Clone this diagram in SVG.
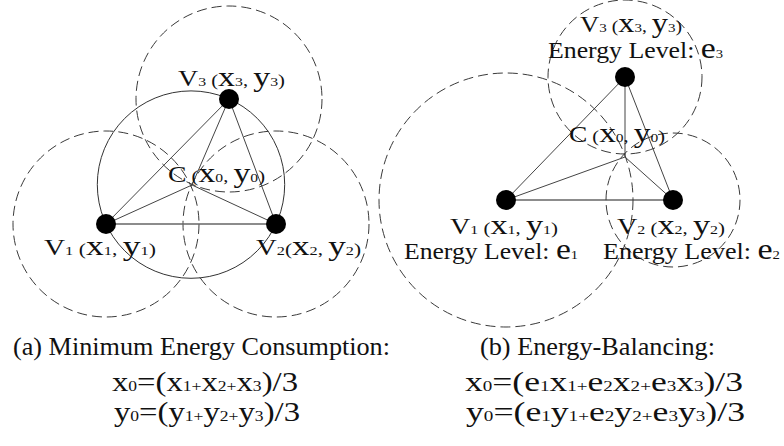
<svg xmlns="http://www.w3.org/2000/svg" width="784" height="446" viewBox="0 0 784 446">
<style>
.t{font-family:"Liberation Serif","Times New Roman",serif;fill:#111}
.v{font-size:23px}.s{font-size:13px}.p{font-size:17px}.b{font-size:28px}
.el{font-size:23px}.eb{font-size:30px}
.cap{font-size:26px}.fb{font-size:28px}.fs{font-size:15px}
.dash{fill:none;stroke:#3a3a3a;stroke-width:1;stroke-dasharray:10 5}
.ring{fill:none;stroke:#333;stroke-width:1}
.edge{stroke:#444;stroke-width:1;fill:none}
.base{stroke:#666;stroke-width:1.4}
.dot{fill:#000}
</style>
<rect width="784" height="446" fill="#fff"/>

<!-- (a) panel -->
<g id="a-range">
<circle class="dash" cx="106" cy="224" r="93"/>
<circle class="dash" cx="276" cy="224" r="93"/>
<circle class="dash" cx="229" cy="99" r="93"/>
<circle class="ring" cx="191" cy="184.6" r="93.7"/>
</g>
<g id="connectors">
<line class="base" x1="106" y1="224" x2="276" y2="224"/>
<line class="edge" x1="106" y1="224" x2="229" y2="99"/>
<line class="edge" x1="276" y1="224" x2="229" y2="99"/>
<line class="edge" x1="192" y1="185" x2="106" y2="224"/>
<line class="edge" x1="192" y1="185" x2="276" y2="224"/>
<line class="edge" x1="192" y1="185" x2="229" y2="99"/>
<line class="base" x1="506" y1="200" x2="673" y2="200"/>
<line class="edge" x1="506" y1="200" x2="625" y2="77"/>
<line class="edge" x1="673" y1="200" x2="625" y2="77"/>
<line class="edge" x1="625" y1="157" x2="506" y2="200"/>
<line class="edge" x1="625" y1="157" x2="673" y2="200"/>
<line class="edge" x1="625" y1="157" x2="625" y2="77"/>
</g>
<g id="a-v1">
<circle class="dot" cx="106" cy="224" r="10"/>
<text class="t" x="44" y="255" textLength="112" lengthAdjust="spacingAndGlyphs"><tspan class="v">V</tspan><tspan class="s">1</tspan><tspan class="p"> (</tspan><tspan class="b">x</tspan><tspan class="s">1</tspan><tspan class="p">, </tspan><tspan class="b">y</tspan><tspan class="s">1</tspan><tspan class="p">)</tspan></text>
</g>
<g id="a-v2">
<circle class="dot" cx="276" cy="224" r="10"/>
<text class="t" x="256" y="255" textLength="105" lengthAdjust="spacingAndGlyphs"><tspan class="v">V</tspan><tspan class="s">2</tspan><tspan class="p">(</tspan><tspan class="b">x</tspan><tspan class="s">2</tspan><tspan class="p">, </tspan><tspan class="b">y</tspan><tspan class="s">2</tspan><tspan class="p">)</tspan></text>
</g>
<g id="a-v3">
<circle class="dot" cx="229" cy="99" r="10"/>
<text class="t" x="178" y="86" textLength="107" lengthAdjust="spacingAndGlyphs"><tspan class="v">V</tspan><tspan class="s">3</tspan><tspan class="p"> (</tspan><tspan class="b">x</tspan><tspan class="s">3</tspan><tspan class="p">, </tspan><tspan class="b">y</tspan><tspan class="s">3</tspan><tspan class="p">)</tspan></text>
</g>
<g id="a-c">
<text class="t" x="168" y="182" textLength="97" lengthAdjust="spacingAndGlyphs"><tspan class="v">C</tspan><tspan class="p"> (</tspan><tspan class="b">x</tspan><tspan class="s">0</tspan><tspan class="p">, </tspan><tspan class="b">y</tspan><tspan class="s">0</tspan><tspan class="p">)</tspan></text>
</g>

<!-- (b) panel -->
<g id="b-range">
<circle class="dash" cx="506" cy="200" r="127"/>
<circle class="dash" cx="625" cy="77" r="77"/>
<circle class="dash" cx="673" cy="200" r="67"/>
</g>
<g id="b-v1">
<circle class="dot" cx="506" cy="200" r="10"/>
<text class="t" x="450" y="234" textLength="108" lengthAdjust="spacingAndGlyphs"><tspan class="v">V</tspan><tspan class="s">1</tspan><tspan class="p"> (</tspan><tspan class="b">x</tspan><tspan class="s">1</tspan><tspan class="p">, </tspan><tspan class="b">y</tspan><tspan class="s">1</tspan><tspan class="p">)</tspan></text>
<text class="t" x="404" y="259" textLength="174" lengthAdjust="spacingAndGlyphs"><tspan class="el">Energy Level: </tspan><tspan class="eb">e</tspan><tspan class="s">1</tspan></text>
</g>
<g id="b-v2">
<circle class="dot" cx="673" cy="200" r="10"/>
<text class="t" x="617" y="234" textLength="108" lengthAdjust="spacingAndGlyphs"><tspan class="v">V</tspan><tspan class="s">2</tspan><tspan class="p"> (</tspan><tspan class="b">x</tspan><tspan class="s">2</tspan><tspan class="p">, </tspan><tspan class="b">y</tspan><tspan class="s">2</tspan><tspan class="p">)</tspan></text>
<text class="t" x="603" y="259" textLength="177" lengthAdjust="spacingAndGlyphs"><tspan class="el">Energy Level: </tspan><tspan class="eb">e</tspan><tspan class="s">2</tspan></text>
</g>
<g id="b-v3">
<circle class="dot" cx="625" cy="77" r="10"/>
<text class="t" x="580" y="32" textLength="102" lengthAdjust="spacingAndGlyphs"><tspan class="v">V</tspan><tspan class="s">3</tspan><tspan class="p"> (</tspan><tspan class="b">x</tspan><tspan class="s">3</tspan><tspan class="p">, </tspan><tspan class="b">y</tspan><tspan class="s">3</tspan><tspan class="p">)</tspan></text>
<text class="t" x="548" y="58" textLength="175" lengthAdjust="spacingAndGlyphs"><tspan class="el">Energy Level: </tspan><tspan class="eb">e</tspan><tspan class="s">3</tspan></text>
</g>
<g id="b-c">
<text class="t" x="569" y="142" textLength="96" lengthAdjust="spacingAndGlyphs"><tspan class="v">C</tspan><tspan class="p"> (</tspan><tspan class="b">x</tspan><tspan class="s">0</tspan><tspan class="p">, </tspan><tspan class="b">y</tspan><tspan class="s">0</tspan><tspan class="p">)</tspan></text>
</g>

<!-- captions -->
<g id="caption-a">
<text class="t cap" x="13" y="355" textLength="377" lengthAdjust="spacingAndGlyphs">(a) Minimum Energy Consumption:</text>
<text class="t" x="112" y="391" textLength="186" lengthAdjust="spacingAndGlyphs"><tspan class="fb">x</tspan><tspan class="fs">0</tspan><tspan class="fb">=(x</tspan><tspan class="fs">1+</tspan><tspan class="fb">x</tspan><tspan class="fs">2+</tspan><tspan class="fb">x</tspan><tspan class="fs">3</tspan><tspan class="fb">)/3</tspan></text>
<text class="t" x="114" y="421" textLength="186" lengthAdjust="spacingAndGlyphs"><tspan class="fb">y</tspan><tspan class="fs">0</tspan><tspan class="fb">=(y</tspan><tspan class="fs">1+</tspan><tspan class="fb">y</tspan><tspan class="fs">2+</tspan><tspan class="fb">y</tspan><tspan class="fs">3</tspan><tspan class="fb">)/3</tspan></text>
</g>
<g id="caption-b">
<text class="t cap" x="480" y="355" textLength="235" lengthAdjust="spacingAndGlyphs">(b) Energy-Balancing:</text>
<text class="t" x="465" y="391" textLength="278" lengthAdjust="spacingAndGlyphs"><tspan class="fb">x</tspan><tspan class="fs">0</tspan><tspan class="fb">=(e</tspan><tspan class="fs">1</tspan><tspan class="fb">x</tspan><tspan class="fs">1+</tspan><tspan class="fb">e</tspan><tspan class="fs">2</tspan><tspan class="fb">x</tspan><tspan class="fs">2+</tspan><tspan class="fb">e</tspan><tspan class="fs">3</tspan><tspan class="fb">x</tspan><tspan class="fs">3</tspan><tspan class="fb">)/3</tspan></text>
<text class="t" x="466" y="421" textLength="279" lengthAdjust="spacingAndGlyphs"><tspan class="fb">y</tspan><tspan class="fs">0</tspan><tspan class="fb">=(e</tspan><tspan class="fs">1</tspan><tspan class="fb">y</tspan><tspan class="fs">1+</tspan><tspan class="fb">e</tspan><tspan class="fs">2</tspan><tspan class="fb">y</tspan><tspan class="fs">2+</tspan><tspan class="fb">e</tspan><tspan class="fs">3</tspan><tspan class="fb">y</tspan><tspan class="fs">3</tspan><tspan class="fb">)/3</tspan></text>
</g>
</svg>
